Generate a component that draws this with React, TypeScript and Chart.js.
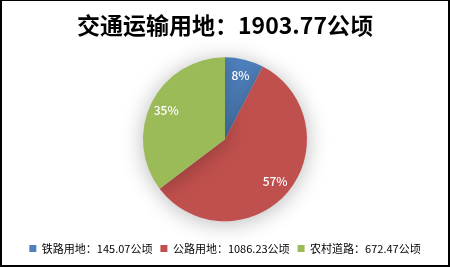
import React, { useEffect, useRef } from "react";
import { Chart, registerables } from "chart.js";

Chart.register(...registerables);

const titleText = "交通运输用地：1903.77公顷";
const categories = ["铁路用地", "公路用地", "农村道路"];
const values = [145.07, 1086.23, 672.47];
const valueLabels = ["145.07公顷", "1086.23公顷", "672.47公顷"];
const percentLabels = ["8%", "57%", "35%"];
const colors = ["#4F81BD", "#C0504D", "#9BBB59"];

const FONT = "'Noto Sans CJK SC', 'Noto Sans', sans-serif";

const shadowPlugin = {
  id: "pieShadow",
  beforeDatasetsDraw(chart: any) {
    const ctx = chart.ctx;
    ctx.save();
    ctx.shadowColor = "rgba(0,0,0,0.28)";
    ctx.shadowBlur = 22;
    ctx.shadowOffsetX = 0;
    ctx.shadowOffsetY = 2;
  },
  afterDatasetsDraw(chart: any) {
    chart.ctx.restore();
  },
};

const labelPlugin = {
  id: "pctLabels",
  afterDatasetsDraw(chart: any) {
    const ctx = chart.ctx;
    const meta = chart.getDatasetMeta(0);
    ctx.save();
    ctx.fillStyle = "#ffffff";
    ctx.font = `500 12px ${FONT}`;
    ctx.textAlign = "center";
    ctx.textBaseline = "middle";
    meta.data.forEach((arc: any, i: number) => {
      const { x, y, startAngle, endAngle, outerRadius } = arc.getProps(
        ["x", "y", "startAngle", "endAngle", "outerRadius"],
        true
      );
      const mid = (startAngle + endAngle) / 2;
      const r = outerRadius * 0.8;
      ctx.fillText(percentLabels[i], x + Math.cos(mid) * r, y + Math.sin(mid) * r);
    });
    ctx.restore();
  },
};

const borderPlugin = {
  id: "frame",
  afterDraw(chart: any) {
    const ctx = chart.ctx;
    const w = chart.width;
    const h = chart.height;
    ctx.save();
    ctx.fillStyle = "#000000";
    ctx.fillRect(0, 0, w, 1);
    ctx.fillRect(0, 0, 2, h);
    ctx.fillRect(w - 2, 0, 2, h);
    ctx.fillRect(0, h - 2, w, 2);
    ctx.restore();
  },
};

export default function App() {
  const ref = useRef<HTMLCanvasElement>(null);
  useEffect(() => {
    if (!ref.current) return;
    const chart = new Chart(ref.current, {
      type: "pie",
      data: {
        labels: categories,
        datasets: [
          {
            data: values,
            backgroundColor: colors,
            borderColor: "#ffffff",
            borderWidth: 0,
          },
        ],
      },
      options: {
        animation: false,
        responsive: false,
        radius: 82,
        layout: { padding: { top: 0, bottom: 3, left: 0, right: 0 } },
        plugins: {
          title: {
            display: true,
            text: titleText,
            color: "#000000",
            font: { family: FONT, size: 23, weight: "bold" },
            padding: { top: 11, bottom: 5 },
          },
          legend: {
            position: "bottom",
            labels: {
              boxWidth: 7,
              boxHeight: 7,
              padding: 8,
              color: "#8c8c8c",
              font: { family: FONT, size: 11 },
              generateLabels: () =>
                categories.map((c, i) => ({
                  text: `${c}：${valueLabels[i]}`,
                  fillStyle: colors[i],
                  strokeStyle: colors[i],
                  lineWidth: 0,
                  hidden: false,
                  index: i,
                })),
            },
          },
          tooltip: { enabled: false },
        },
      },
      plugins: [shadowPlugin, labelPlugin, borderPlugin],
    });
    return () => chart.destroy();
  }, []);
  return (
    <div style={{ position: "fixed", left: 0, top: 0, width: 450, height: 267, background: "#fff" }}>
      <canvas ref={ref} width={450} height={267} style={{ display: "block" }} />
    </div>
  );
}
